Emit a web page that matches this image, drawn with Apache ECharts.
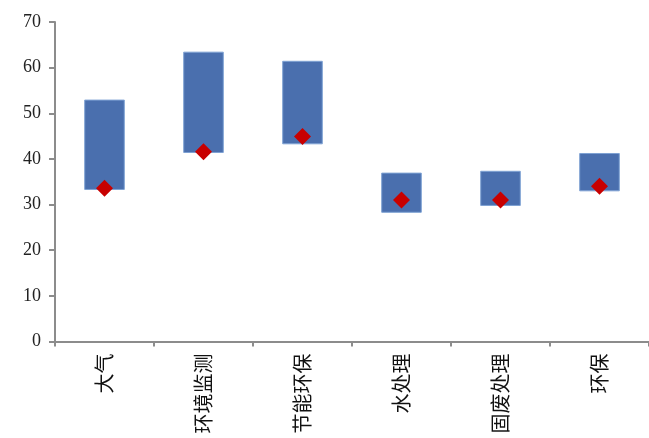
<!DOCTYPE html>
<html>
<head>
<meta charset="utf-8">
<script src="https://cdn.jsdelivr.net/npm/echarts@6/dist/echarts.min.js"></script>
<style>
  html, body { margin: 0; padding: 0; background: #ffffff; }
  #chart { width: 649px; height: 438px; }
</style>
</head>
<body>
<div id="chart"></div>
<script>
// Sector valuation ranges: low / high band with a current-value marker
const categories = ['大气', '环境监测', '节能环保', '水处理', '固废处理', '环保'];
const lowValues = [33.2, 41.3, 43.2, 28.2, 29.7, 32.9];
const highValues = [53.0, 63.5, 61.5, 37.0, 37.4, 41.3];
const currentValues = [33.6, 41.6, 44.9, 31.0, 31.0, 34.0];
const yTicks = [0, 10, 20, 30, 40, 50, 60, 70];

const rangeValues = highValues.map((h, i) => +(h - lowValues[i]).toFixed(2));

const chart = echarts.init(document.getElementById('chart'));
chart.setOption({
  animation: false,
  grid: { left: 55, top: 22, width: 596, height: 319.5 },
  xAxis: {
    type: 'category',
    data: categories,
    axisLine: { lineStyle: { color: '#8c8c8c', width: 2 } },
    axisTick: { show: true, length: 5, lineStyle: { color: '#8c8c8c', width: 2 } },
    axisLabel: {
      rotate: 90,
      margin: 12,
      fontFamily: 'Noto Sans CJK SC',
      fontSize: 20,
      color: '#111'
    }
  },
  yAxis: {
    type: 'value',
    min: yTicks[0],
    max: yTicks[yTicks.length - 1],
    interval: 10,
    splitLine: { show: false },
    axisLine: { show: true, lineStyle: { color: '#8c8c8c', width: 2 } },
    axisTick: { show: true, length: 6, lineStyle: { color: '#8c8c8c', width: 2 } },
    axisLabel: {
      margin: 14,
      fontFamily: 'Liberation Serif',
      fontSize: 18,
      color: '#222'
    }
  },
  series: [
    {
      type: 'bar',
      stack: 'band',
      data: lowValues,
      barWidth: '41%',
      itemStyle: { color: 'transparent' },
      silent: true
    },
    {
      type: 'bar',
      stack: 'band',
      data: rangeValues,
      barWidth: '41%',
      itemStyle: { color: '#4a6fae', borderColor: '#7fa2d4', borderWidth: 1 }
    },
    {
      type: 'scatter',
      data: currentValues,
      symbol: 'diamond',
      symbolSize: [17, 17],
      itemStyle: { color: '#c80000', opacity: 1 },
      z: 5
    }
  ]
});
</script>
</body>
</html>
